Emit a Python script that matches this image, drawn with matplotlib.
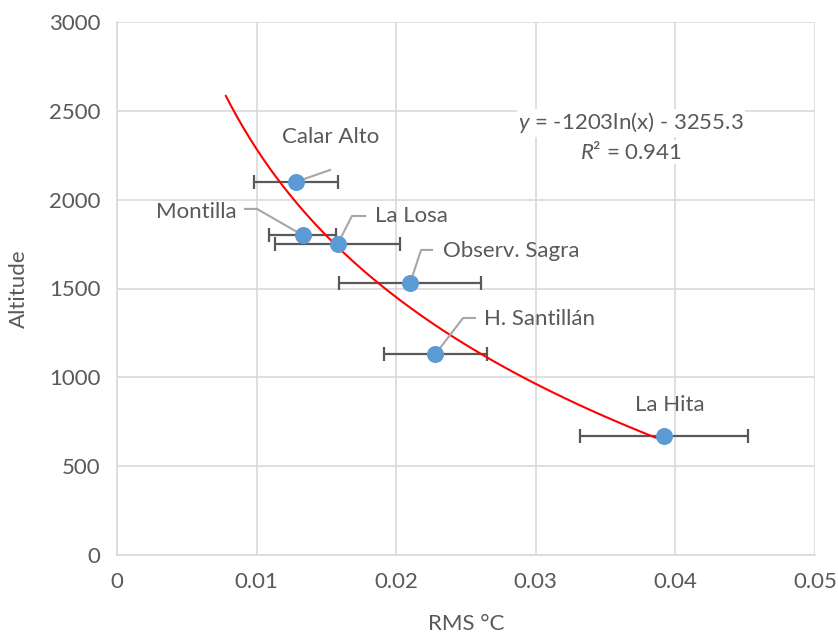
import numpy as np
import matplotlib.pyplot as plt

plt.rcParams['font.family'] = ['Lato', 'DejaVu Sans']
plt.rcParams['mathtext.fontset'] = 'custom'
plt.rcParams['mathtext.it'] = 'Lato:italic'
plt.rcParams['mathtext.rm'] = 'Lato'

sitios = ['Calar Alto', 'Montilla', 'La Losa', 'Observ. Sagra', 'H. Santillán', 'La Hita']
rms = [0.0128, 0.0133, 0.0158, 0.0210, 0.0228, 0.0392]
altitud = [2100, 1800, 1750, 1530, 1130, 670]
err_rms = [0.0030, 0.0024, 0.0045, 0.0051, 0.0037, 0.0060]

# tendencia logaritmica: y = a ln(x) + b
a, b = -1203, -3255.3
x_ini, x_fin = 0.0078, 0.0392

gris = '#595959'
fs = 16
fig = plt.figure(figsize=(8.38, 6.38), dpi=100)
ax = fig.add_axes([117/838, 1 - 555/638, 698/838, 533/638])

ax.errorbar(rms, altitud, xerr=err_rms, fmt='none', ecolor=gris, elinewidth=1.6,
            capsize=5, capthick=1.6, zorder=3)
xs = np.linspace(x_ini, x_fin, 200)
ax.plot(xs, a * np.log(xs) + b, color='red', lw=1.5, zorder=4)
ax.scatter(rms, altitud, s=150, color='#5B9BD5', zorder=5, linewidths=0)

# etiquetas: (texto xy, alineacion, linea guia)
lineas = '#a6a6a6'
etiquetas = [
    ((0.01533, 2352), 'center', [(0.01526, 2167)]),
    ((0.00855, 1931), 'right', [(0.00917, 1948), (0.01003, 1948)]),
    ((0.01848, 1908), 'left', [(0.01777, 1908), (0.01683, 1908)]),
    ((0.02335, 1711), 'left', [(0.02256, 1717), (0.02178, 1717)]),
    ((0.02629, 1328), 'left', [(0.02564, 1334), (0.02479, 1334)]),
    ((0.03961, 844), 'center', []),
]
for i, (pos, ha, guia) in enumerate(etiquetas):
    ax.text(pos[0], pos[1], sitios[i], ha=ha, va='center', fontsize=fs, color=gris, zorder=6)
    if guia:
        px = [p[0] for p in guia] + [rms[i]]
        py = [p[1] for p in guia] + [altitud[i]]
        ax.plot(px, py, color=lineas, lw=1.5, zorder=4.5)

ax.text(0.03682, 2432, r'$y$ = -1203ln(x) - 3255.3', ha='center', va='center',
        fontsize=fs, color=gris, bbox=dict(facecolor='white', edgecolor='none', pad=1))
ax.text(0.03682, 2268, r'$R$² = 0.941', ha='center', va='center', fontsize=fs, color=gris,
        bbox=dict(facecolor='white', edgecolor='none', pad=1))

ax.set_xlim(0, 0.05)
ax.set_ylim(0, 3000)
ax.set_xticks([0, 0.01, 0.02, 0.03, 0.04, 0.05])
ax.set_xticklabels(['0', '0.01', '0.02', '0.03', '0.04', '0.05'])
ax.set_yticks(range(0, 3001, 500))
ax.grid(True, color='#d9d9d9', lw=1.2)
ax.set_axisbelow(True)
for lado in ['top', 'right']:
    ax.spines[lado].set_visible(False)
for lado in ['left', 'bottom']:
    ax.spines[lado].set_color('#d9d9d9')
    ax.spines[lado].set_linewidth(1.2)
ax.tick_params(length=0, labelsize=fs, colors=gris, pad=12)
ax.set_xlabel('RMS °C', fontsize=fs, color=gris, labelpad=16)
ax.set_ylabel('Altitude', fontsize=fs, color=gris, labelpad=14)

fig.savefig('out.png', dpi=100)
